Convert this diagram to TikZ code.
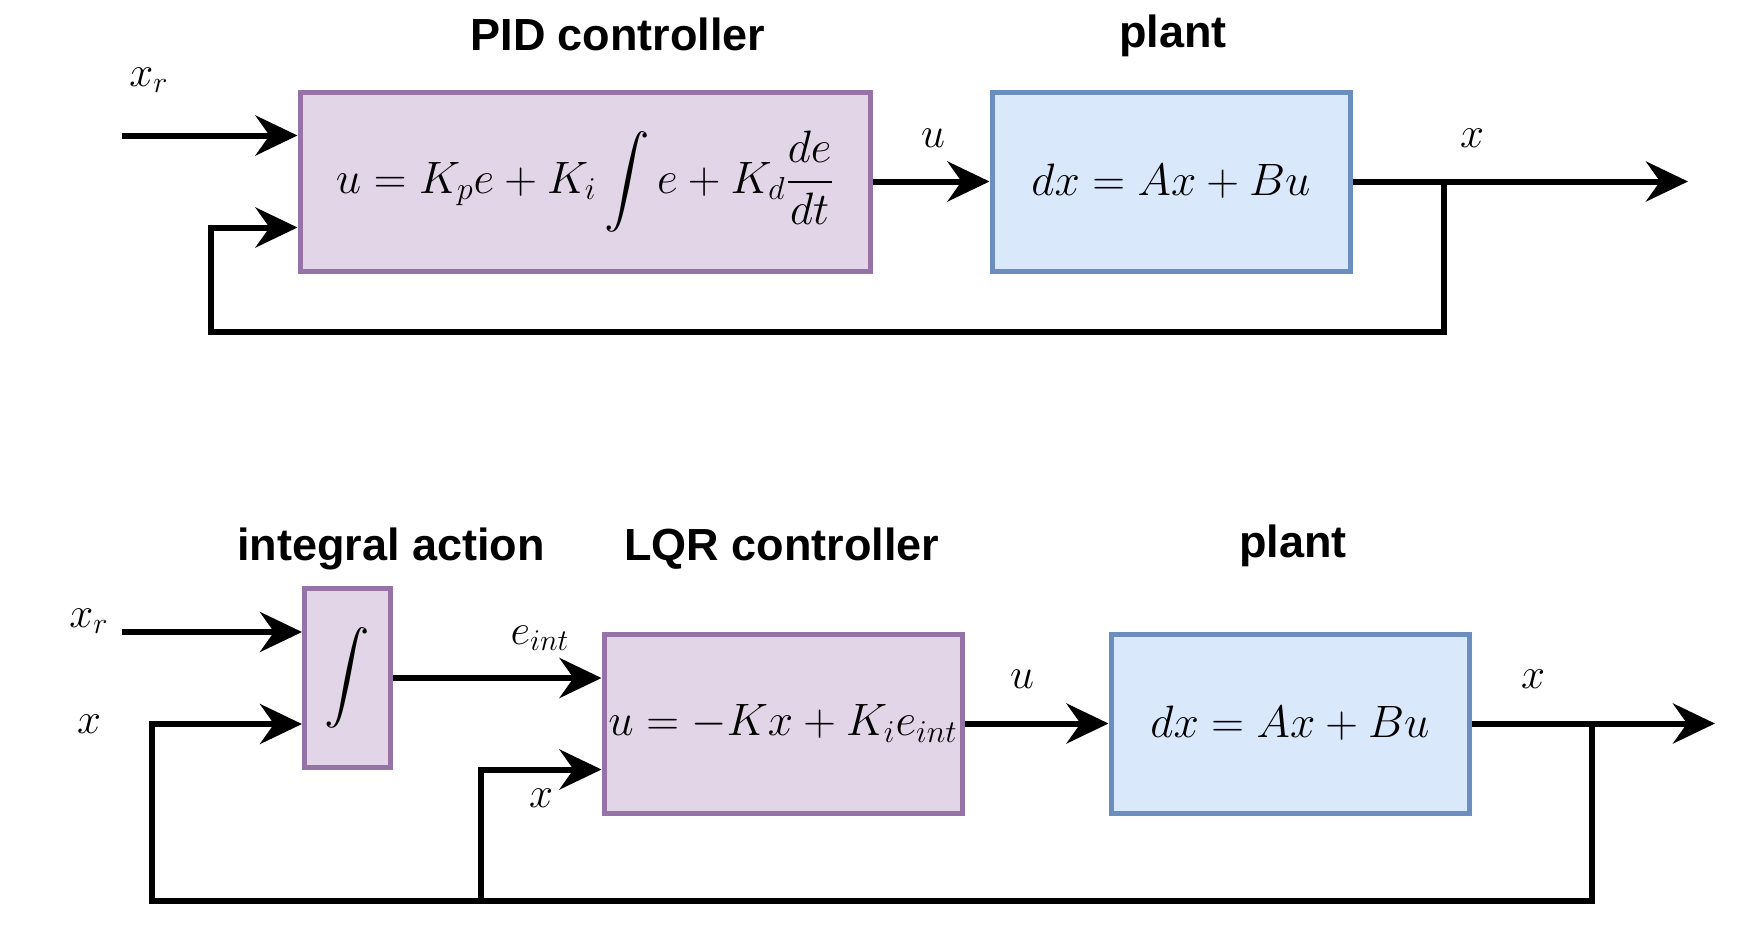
\RequirePackage{fix-cm}
\documentclass[tikz,border=0pt]{standalone}
\usepackage{amsmath}
\usepackage{amssymb}
\usepackage{xcolor}
\usepackage{fontspec}
\setsansfont{Liberation Sans}
\usepackage{tikz}
\usetikzlibrary{arrows.meta,positioning,calc}

\definecolor{ctrlfill}{HTML}{E1D5E7}
\definecolor{ctrldraw}{HTML}{9673A6}
\definecolor{plantfill}{HTML}{DAE8FC}
\definecolor{plantdraw}{HTML}{6C8EBF}

\newcommand\eqfont{\fontsize{22.7}{27}\selectfont}
\newcommand\lblfont{\fontsize{21.5}{26}\selectfont}
\newcommand\headfont{\sffamily\bfseries\fontsize{22.5}{27}\selectfont}

\begin{document}
\begin{tikzpicture}[
    x=0.5pt, y=-0.5pt,
    ctrl/.style={rectangle, draw=ctrldraw, fill=ctrlfill, line width=2.5pt, inner sep=0pt, minimum height=89.5pt, font=\eqfont},
    plantbox/.style={rectangle, draw=plantdraw, fill=plantfill, line width=2.5pt, inner sep=0pt, minimum width=179pt, minimum height=89.5pt, font=\eqfont},
    title/.style={anchor=base, font=\headfont},
    lbl/.style={font=\lblfont},
    arrow/.style={-{Stealth[length=21pt, width=20pt, inset=7pt]}, line width=3pt},
    wire/.style={line width=3pt}
]
\useasboundingbox (0,0) rectangle (1737,927);

% Nodes (PID loop)
\node[ctrl, minimum width=285pt] (pid) at (585,181.5) {$\displaystyle u = K_pe + K_i\int e + K_d\frac{de}{dt}$};
\node[plantbox, right=58.5pt of pid] (plant1) {$dx = Ax + Bu$};
\node[title] (pidtitle) at (618,50) {PID controller};
\node[title] (planttitle1) at (1173,47) {plant};

% Nodes (LQR loop)
\node[ctrl, minimum width=43pt] (integ) at (347.5,678) {$\displaystyle\int$};
\node[ctrl, minimum width=179pt] (lqr) at (783,723.5) {$u = -Kx + K_ie_{int}$};
\node[plantbox, right=72pt of lqr] (plant2) {$dx = Ax + Bu$};
\node[title] (integtitle) at (391,560) {integral action};
\node[title] (lqrtitle) at (782,560) {LQR controller};
\node[title] (planttitle2) at (1293,557) {plant};

% Labels
\node[lbl] (xr1lbl) at (149,80) {$x_r$};
\node[lbl] (u1lbl) at (933,138) {$u$};
\node[lbl] (x1lbl) at (1472,138) {$x$};
\node[lbl] (xr2lbl) at (89,621) {$x_r$};
\node[lbl] (x2lbl) at (89,724) {$x$};
\node[lbl] (eintlbl) at (540,638) {$e_{int}$};
\node[lbl] (x3lbl) at (541,798) {$x$};
\node[lbl] (u2lbl) at (1022,679) {$u$};
\node[lbl] (x4lbl) at (1533,679) {$x$};

% Coordinates
\coordinate (pidin1) at ($(pid.north west)!0.25!(pid.south west)$);
\coordinate (pidin2) at ($(pid.north west)!0.75!(pid.south west)$);
\coordinate (xr1) at (122,0 |- pidin1);
\coordinate (out1) at (1688,181.5);
\coordinate (br1) at (1444,181.5);
\coordinate (fb1) at (211,332);
\coordinate (intin1) at ($(integ.north west)!0.25!(integ.south west)$);
\coordinate (intin2) at ($(integ.north west)!0.75!(integ.south west)$);
\coordinate (lqrin2) at ($(lqr.north west)!0.75!(lqr.south west)$);
\coordinate (xr2) at (122,0 |- intin1);
\coordinate (out2) at (1715,723.5);
\coordinate (br2) at (1592,723.5);
\coordinate (fb2) at (152,901);
\coordinate (fb3) at (481,901);

% Arrows (PID loop)
\draw[arrow] (xr1) -- (pidin1);
\draw[arrow] (pid) -- (plant1);
\draw[arrow] (plant1) -- (out1);
\draw[arrow] (br1) |- (fb1) |- (pidin2);

% Arrows (LQR loop)
\draw[arrow] (xr2) -- (intin1);
\draw[arrow] (integ.east) -- (integ.east -| lqr.west);
\draw[arrow] (lqr) -- (plant2);
\draw[arrow] (plant2) -- (out2);
\draw[arrow] (br2) |- (fb2) |- (intin2);
\draw[arrow] (fb3) |- (lqrin2);

\end{tikzpicture}
\end{document}
